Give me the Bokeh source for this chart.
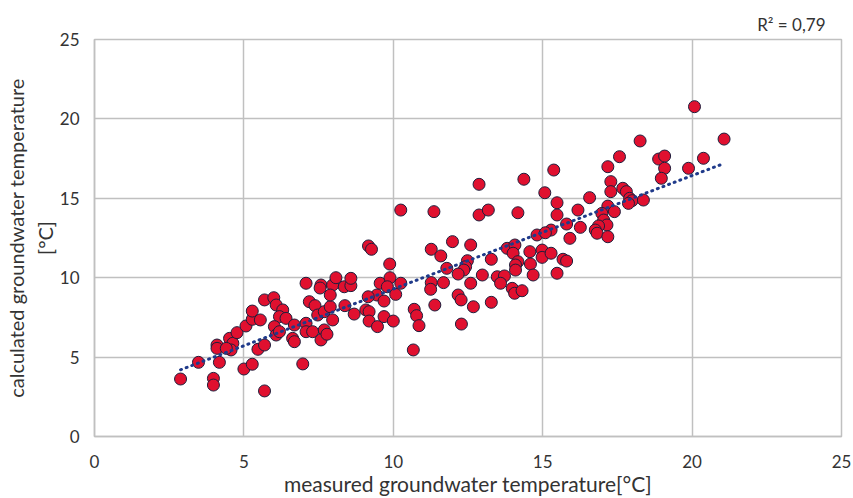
import numpy as np
from bokeh.plotting import figure
from bokeh.models import Range1d, FixedTicker, ColumnDataSource
from bokeh.embed import file_html
from bokeh.resources import INLINE

# measured groundwater temperature [°C]
measured = [
    2.88, 3.48, 3.98, 3.98, 4.10, 4.10, 4.18, 4.52, 4.63, 4.77, 4.57, 4.41, 5.00, 5.28, 5.07,
    5.28, 5.28, 5.55, 5.47, 5.69, 5.69, 5.69, 6.00, 6.08, 6.30, 6.19, 6.41, 6.02, 6.08, 6.19,
    6.63, 6.69, 6.69,
    7.08, 7.08, 7.30, 6.97, 7.19, 7.38, 7.47, 7.69, 7.89, 7.97, 7.69, 7.58, 7.78, 7.08, 7.58,
    7.55, 7.97, 7.89, 8.08, 8.36, 8.58, 8.58, 8.38, 8.69, 9.17, 9.27, 9.88, 9.56, 9.89, 10.25,
    9.80, 9.45, 9.69, 9.16, 10.08, 9.08, 9.19, 9.19, 9.47, 9.69, 10.00, 10.70, 10.78, 10.86,
    10.67, 10.25,
    12.87, 14.37, 11.36, 12.87, 13.18, 14.17, 11.27, 11.59, 11.98, 12.59, 11.79, 12.48, 12.42,
    12.36, 12.17, 11.27, 11.25, 11.68, 12.59, 12.98, 13.28, 13.48, 13.72, 13.59, 13.98, 14.06,
    14.31, 13.81, 14.07, 14.01, 14.17, 14.09, 14.09, 14.57, 14.59, 14.68, 11.39, 12.17, 12.27,
    12.68, 13.28, 12.28, 14.81,
    18.26, 17.57, 17.18, 15.37, 17.28, 17.28, 17.68, 17.80, 17.91, 17.99, 18.37, 17.87, 16.57,
    15.07, 15.48, 15.48, 16.18, 17.18, 17.40, 16.98, 17.04, 17.15, 16.87, 16.76, 16.82, 17.18,
    15.80, 16.26, 15.91, 15.28, 15.09, 14.98, 14.98, 15.28, 15.68, 15.80, 15.48,
    20.08, 21.07, 18.88, 19.08, 19.08, 18.97, 20.38, 19.88,
]
# calculated groundwater temperature [°C]
calculated = [
    3.62, 4.67, 3.66, 3.24, 5.76, 5.55, 4.67, 6.18, 5.87, 6.54, 5.45, 5.55, 4.25, 4.55, 6.96,
    7.38, 7.90, 7.34, 5.49, 5.76, 2.87, 8.60, 8.74, 8.28, 7.97, 7.55, 7.44, 6.92, 6.39, 6.60,
    6.18, 5.97, 7.02,
    7.13, 6.60, 6.60, 4.57, 8.49, 8.24, 7.65, 7.86, 8.17, 7.34, 6.71, 6.08, 6.44, 9.65, 9.54,
    9.35, 9.54, 8.91, 10.00, 9.43, 9.50, 9.96, 8.24, 7.71, 12.00, 11.79, 10.86, 9.65, 10.00, 9.65,
    9.43, 8.91, 8.53, 8.80, 8.95, 7.97, 7.86, 7.27, 6.92, 7.55, 7.27, 8.01, 7.61, 6.98,
    5.45, 14.26,
    15.88, 16.20, 14.16, 13.95, 14.26, 14.09, 11.79, 11.37, 12.27, 12.06, 10.59, 11.07, 10.69,
    10.48, 10.23, 9.69, 9.27, 9.69, 9.65, 10.17, 11.16, 10.06, 10.11, 9.65, 9.33, 9.02,
    9.18, 11.85, 12.06, 11.54, 11.01, 10.80, 10.48, 11.64, 10.86, 10.17, 8.28, 8.91, 8.60,
    8.17, 8.45, 7.08, 12.69,
    18.61, 17.62, 16.99, 16.78, 16.05, 15.42, 15.63, 15.42, 15.00, 14.85, 14.89, 14.68, 15.04,
    15.35, 14.72, 13.95, 14.26, 14.51, 14.16, 14.05, 13.63, 13.32, 13.26, 13.00, 12.80, 12.58,
    13.38, 13.17, 12.48, 13.00, 12.83, 11.74, 11.28, 11.54, 11.16, 11.05, 10.28,
    20.77, 18.73, 17.47, 17.66, 16.89, 16.26, 17.52, 16.89,
]
x_ticks = [0, 5, 10, 15, 20, 25]
y_ticks = [0, 5, 10, 15, 20, 25]
r2_text = "R² = 0,79"

FONT = "Lato"
GRID = "#C0C0C0"
TXT = "#333333"

p = figure(width=853, height=498, output_backend="svg", toolbar_location=None,
           x_range=Range1d(0, 25), y_range=Range1d(0, 25),
           title=r2_text, title_location="above",
           min_border_left=0, min_border_right=12, min_border_top=39, min_border_bottom=0)
p.title.align = "right"
p.title.offset = 16
p.title.standoff = 10
p.title.text_font = FONT
p.title.text_font_size = "17px"
p.title.text_font_style = "normal"
p.title.text_color = TXT
p.background_fill_color = "white"
p.border_fill_color = "white"
p.outline_line_color = GRID
p.outline_line_width = 1.5

for ax, ticks in ((p.xaxis[0], x_ticks), (p.yaxis[0], y_ticks)):
    ax.ticker = FixedTicker(ticks=ticks)
    ax.axis_line_color = GRID
    ax.axis_line_width = 1.5
    ax.major_tick_line_color = None
    ax.minor_tick_line_color = None
    ax.major_label_text_font = FONT
    ax.major_label_text_font_size = "17px"
    ax.major_label_text_color = TXT
    ax.axis_label_text_font = FONT
    ax.axis_label_text_font_style = "normal"
    ax.axis_label_text_color = TXT

p.xaxis.axis_label_text_font_size = "21px"
p.yaxis.axis_label_text_font_size = "20px"
p.xaxis.axis_label = "measured groundwater temperature[°C]"
p.yaxis.axis_label = "calculated groundwater temperature\n[°C]"
p.xaxis.major_label_standoff = 12
p.yaxis.major_label_standoff = 9
p.xaxis.axis_label_standoff = 0
p.yaxis.axis_label_standoff = 0

p.xgrid.ticker = FixedTicker(ticks=x_ticks)
p.ygrid.ticker = FixedTicker(ticks=y_ticks)
p.xgrid.grid_line_color = GRID
p.ygrid.grid_line_color = GRID
p.xgrid.grid_line_width = 1.5
p.ygrid.grid_line_width = 1.5

src = ColumnDataSource(dict(x=measured, y=calculated))
p.scatter("x", "y", source=src, size=12, fill_color="#E0102F",
          line_color="#1E1E3C", line_width=1)

# linear trend line fitted to the data
slope, intercept = np.polyfit(measured, calculated, 1)
tx = [min(measured), max(measured)]
ty = [slope * v + intercept for v in tx]
p.line(tx, ty, line_color="#1F3A8A", line_width=3, line_dash="1 5", line_cap="round")

open("out.html", "w").write(file_html(p, INLINE))
